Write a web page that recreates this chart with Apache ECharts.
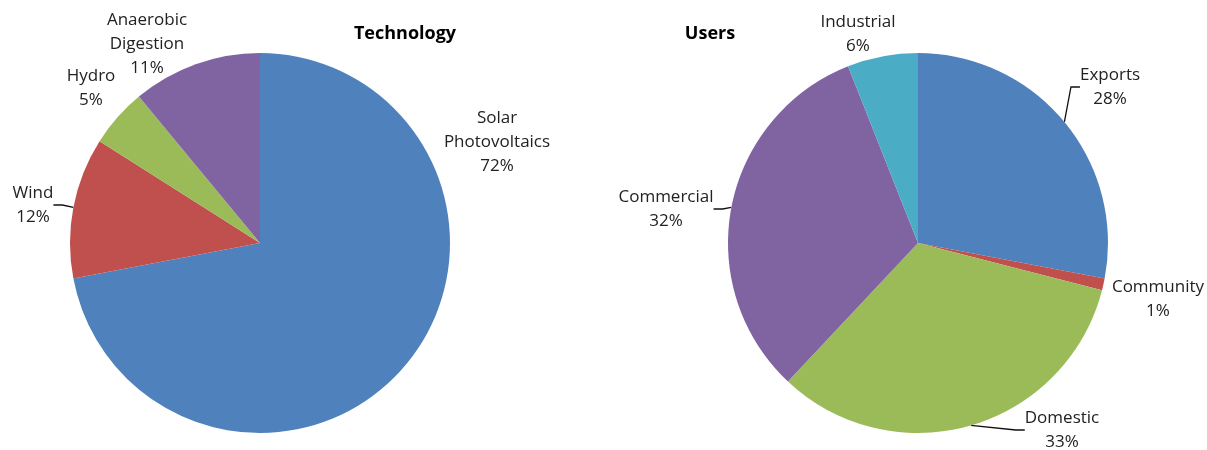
<!DOCTYPE html>
<html>
<head>
<meta charset="utf-8">
<script src="https://cdn.jsdelivr.net/npm/echarts@6/dist/echarts.min.js"></script>
<style>
  html, body { margin: 0; padding: 0; background: #fff; }
  #chart { width: 1207px; height: 450px; }
</style>
</head>
<body>
<div id="chart"></div>
<script>
// ---- data ----
const techCategories = ['Solar Photovoltaics', 'Wind', 'Hydro', 'Anaerobic Digestion'];
const techValues = [72, 12, 5, 11];
const userCategories = ['Exports', 'Community', 'Domestic', 'Commercial', 'Industrial'];
const userValues = [28, 1, 33, 32, 6];

// ---- styles / layout ----
const techColors = ['#4F81BD', '#C0504D', '#9BBB59', '#8064A2'];
const userColors = ['#4F81BD', '#C0504D', '#9BBB59', '#8064A2', '#4BACC6'];
const techLeader = [false, true, false, false];
const userLeader = [true, false, true, true, false];
const techLabelPos = [[497, 142], [33, 205], [91, 88], [147, 44]];
const userLabelPos = [[1110, 87], [1158, 299], [1062, 430], [666, 209], [858, 34]];
const FONT = '"Open Sans", sans-serif';

function buildData(names, values, colors, leader) {
  return names.map((n, i) => ({
    name: n,
    value: values[i],
    itemStyle: { color: colors[i] },
    labelLine: { show: leader[i] }
  }));
}

function labelFormatter(p) {
  return p.name.replace(' ', '\n') + '\n' + Math.round(p.percent) + '%';
}

function makeSeries(data, center, pos) {
  return {
    type: 'pie',
    center: center,
    radius: 190,
    startAngle: 90,
    clockwise: true,
    avoidLabelOverlap: false,
    percentPrecision: 0,
    silent: true,
    animation: false,
    itemStyle: { borderWidth: 0 },
    label: {
      show: true,
      position: 'outside',
      formatter: labelFormatter,
      fontFamily: FONT,
      fontSize: 17,
      lineHeight: 24,
      color: '#222',
      align: 'center'
    },
    labelLine: {
      show: true,
      length: 8,
      length2: 9,
      smooth: false,
      lineStyle: { color: '#111', width: 1.3 }
    },
    labelLayout: function (params) {
      const p = pos[params.dataIndex];
      return { x: p[0], y: p[1], align: 'center', verticalAlign: 'middle' };
    },
    data: data
  };
}

const chart = echarts.init(document.getElementById('chart'), null, { renderer: 'canvas' });
chart.setOption({
  backgroundColor: '#fff',
  animation: false,
  title: [
    {
      text: 'Technology', left: 405, top: 34, padding: 0,
      textAlign: 'center', textVerticalAlign: 'middle',
      textStyle: { fontFamily: FONT, fontSize: 18, fontWeight: 'bold', color: '#000' }
    },
    {
      text: 'Users', left: 710, top: 34, padding: 0,
      textAlign: 'center', textVerticalAlign: 'middle',
      textStyle: { fontFamily: FONT, fontSize: 18, fontWeight: 'bold', color: '#000' }
    }
  ],
  series: [
    makeSeries(buildData(techCategories, techValues, techColors, techLeader), [260, 243], techLabelPos),
    makeSeries(buildData(userCategories, userValues, userColors, userLeader), [918, 243], userLabelPos)
  ]
});
</script>
</body>
</html>
